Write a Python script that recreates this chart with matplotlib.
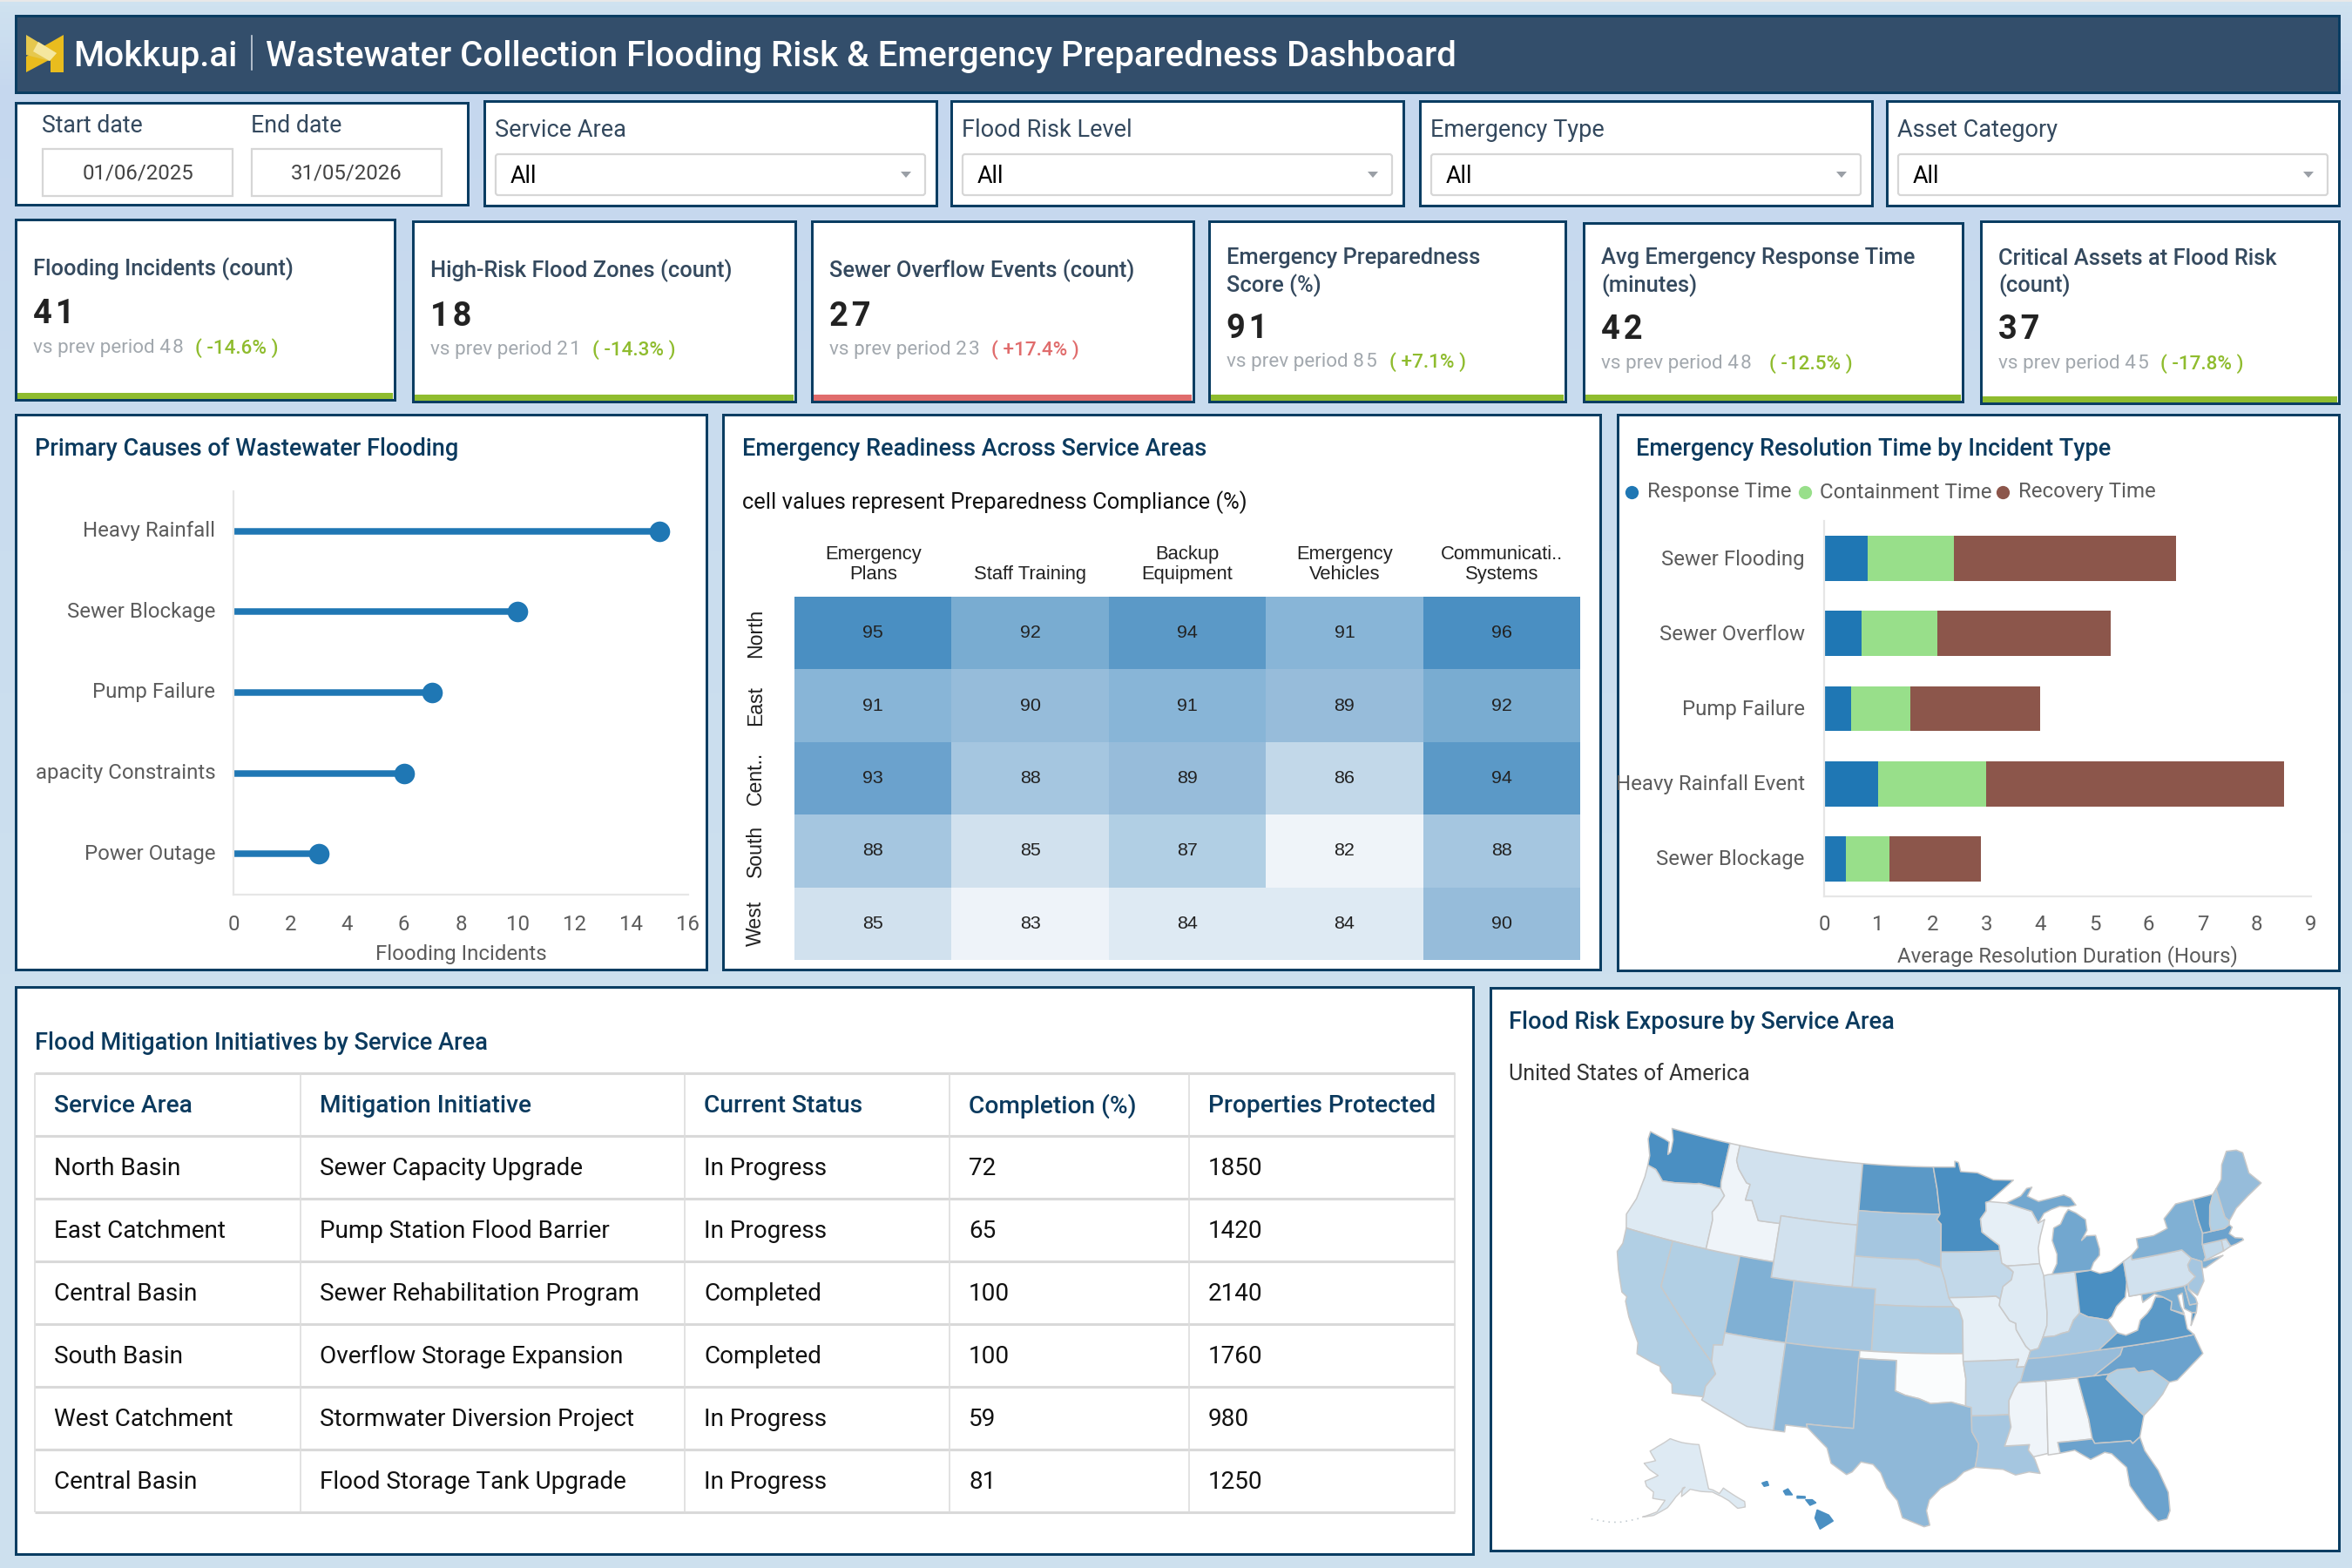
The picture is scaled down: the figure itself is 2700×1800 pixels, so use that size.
import numpy as np
import matplotlib
matplotlib.use("Agg")
import matplotlib.pyplot as plt
from matplotlib.collections import PolyCollection
from matplotlib.colors import LinearSegmentedColormap, Normalize
from matplotlib.patches import Polygon, Rectangle, FancyBboxPatch
from matplotlib.transforms import ScaledTranslation

W, H = 2700, 1800
plt.rcParams['font.family'] = ['Roboto', 'DejaVu Sans']

NAVY = '#0a3d62'
TITLE = '#0b3a5e'
GREY = '#5c5c5c'
GREEN = '#8fbc2e'
RED = '#e06c6c'

# ---- data
filter_names = ['Service Area', 'Flood Risk Level', 'Emergency Type', 'Asset Category']

kpi_titles = [['Flooding Incidents (count)'], ['High-Risk Flood Zones (count)'],
              ['Sewer Overflow Events (count)'], ['Emergency Preparedness', 'Score (%)'],
              ['Avg Emergency Response Time', '(minutes)'], ['Critical Assets at Flood Risk', '(count)']]
kpi_values = [41, 18, 27, 91, 42, 37]
kpi_prev = [48, 21, 23, 85, 48, 45]
kpi_delta = ['-14.6%', '-14.3%', '+17.4%', '+7.1%', '-12.5%', '-17.8%']
kpi_good = [True, True, False, True, True, True]

causes = ['Heavy Rainfall', 'Sewer Blockage', 'Pump Failure', 'apacity Constraints', 'Power Outage']
cause_counts = [15, 10, 7, 6, 3]

heat_cols = ['Emergency\nPlans', 'Staff Training', 'Backup\nEquipment', 'Emergency\nVehicles', 'Communicati..\nSystems']
heat_rows = ['North', 'East', 'Cent..', 'South', 'West']
heat_vals = [[95, 92, 94, 91, 96],
             [91, 90, 91, 89, 92],
             [93, 88, 89, 86, 94],
             [88, 85, 87, 82, 88],
             [85, 83, 84, 84, 90]]

incident_types = ['Sewer Flooding', 'Sewer Overflow', 'Pump Failure', 'Heavy Rainfall Event', 'Sewer Blockage']
response_time = [0.8, 0.7, 0.5, 1.0, 0.4]
containment_time = [1.6, 1.4, 1.1, 2.0, 0.8]
recovery_time = [4.1, 3.2, 2.4, 5.5, 1.7]
stack_names = ['Response Time', 'Containment Time', 'Recovery Time']
stack_colors = ['#1f77b4', '#98df8a', '#8c564b']

table_header = ['Service Area', 'Mitigation Initiative', 'Current Status', 'Completion (%)', 'Properties Protected']
table_rows = [['North Basin', 'Sewer Capacity Upgrade', 'In Progress', '72', '1850'],
              ['East Catchment', 'Pump Station Flood Barrier', 'In Progress', '65', '1420'],
              ['Central Basin', 'Sewer Rehabilitation Program', 'Completed', '100', '2140'],
              ['South Basin', 'Overflow Storage Expansion', 'Completed', '100', '1760'],
              ['West Catchment', 'Stormwater Diversion Project', 'In Progress', '59', '980'],
              ['Central Basin', 'Flood Storage Tank Upgrade', 'In Progress', '81', '1250']]

state_values = {'WA': 95.5, 'OR': 84, 'CA': 87, 'NV': 87, 'ID': 82.5, 'MT': 85, 'WY': 85, 'UT': 91.5, 'CO': 88,
                'AZ': 85, 'NM': 90.5, 'ND': 94, 'SD': 88, 'NE': 86, 'KS': 87, 'OK': 81.3, 'TX': 90.5, 'MN': 95.5,
                'IA': 86, 'MO': 83.5, 'AR': 86, 'LA': 88, 'WI': 83.5, 'IL': 84, 'IN': 84.5, 'OH': 96,
                'MI': 92.5, 'KY': 88, 'TN': 89, 'MS': 82.5, 'AL': 81.8, 'GA': 94, 'SC': 87, 'NC': 93,
                'VA': 94, 'WV': 81, 'MD': 92, 'DE': 91, 'PA': 85, 'NY': 91.5, 'NJ': 88, 'CT': 86, 'RI': 85,
                'MA': 93, 'VT': 94, 'NH': 87, 'ME': 90, 'AK': 84, 'HI': 96, 'FL': 93}

# state outlines, lon/lat, simplified by hand
state_shapes = {
    'WA': [[(-124.7,48.4),(-123.2,48.2),(-122.7,48.1),(-122.5,47.3),(-122.3,47.5),(-122.4,48.3),(-122.8,49.0),(-117.03,49.0),(-117.04,46.4),(-116.92,45.99),(-118.98,46.0),(-119.3,45.93),(-121.2,45.65),(-122.3,45.55),(-122.8,45.9),(-123.2,46.15),(-124.0,46.27),(-124.1,46.9),(-124.7,47.9)]],
    'OR': [[(-124.0,46.27),(-123.2,46.15),(-122.8,45.9),(-122.3,45.55),(-121.2,45.65),(-119.3,45.93),(-118.98,46.0),(-116.92,45.99),(-116.46,45.6),(-116.85,44.9),(-117.22,44.4),(-117.03,43.9),(-117.03,42.0),(-124.2,42.0),(-124.55,42.85),(-124.1,44.0),(-123.95,45.5)]],
    'CA': [[(-124.2,42.0),(-120.0,42.0),(-120.0,39.0),(-114.63,35.0),(-114.14,34.3),(-114.72,33.4),(-114.72,32.72),(-117.12,32.53),(-117.3,33.1),(-118.4,33.75),(-118.5,34.03),(-119.2,34.15),(-120.5,34.45),(-120.65,35.15),(-121.9,36.6),(-122.5,37.5),(-122.5,37.8),(-123.0,38.0),(-123.8,39.3),(-124.35,40.4),(-124.1,41.0)]],
    'NV': [[(-120,42),(-114.04,42),(-114.04,36.2),(-114.75,36.1),(-114.63,35.0),(-120,39)]],
    'ID': [[(-117.03,49),(-116.05,49),(-116.05,48.0),(-115.7,47.5),(-114.7,46.7),(-114.35,46.65),(-114.5,45.6),(-113.9,45.65),(-113.45,45.05),(-113.0,44.45),(-111.05,44.5),(-111.05,42.0),(-117.03,42.0),(-117.03,43.9),(-117.22,44.4),(-116.85,44.9),(-116.46,45.6),(-116.92,45.99),(-117.04,46.4)]],
    'MT': [[(-116.05,49),(-104.05,49),(-104.05,45.0),(-111.05,45.0),(-111.05,44.5),(-113.0,44.45),(-113.45,45.05),(-113.9,45.65),(-114.5,45.6),(-114.35,46.65),(-114.7,46.7),(-115.7,47.5),(-116.05,48.0)]],
    'WY': [[(-111.05,45),(-104.05,45),(-104.05,41),(-111.05,41)]],
    'UT': [[(-114.04,42),(-111.05,42),(-111.05,41),(-109.05,41),(-109.05,37),(-114.04,37)]],
    'CO': [[(-109.05,41),(-102.05,41),(-102.05,37),(-109.05,37)]],
    'AZ': [[(-114.63,35.0),(-114.75,36.1),(-114.04,36.2),(-114.04,37),(-109.05,37),(-109.05,31.33),(-111.07,31.33),(-114.81,32.5),(-114.72,32.72),(-114.72,33.4),(-114.14,34.3)]],
    'NM': [[(-109.05,37),(-103.0,37),(-103.04,32.0),(-106.62,32.0),(-106.53,31.78),(-108.2,31.78),(-108.2,31.33),(-109.05,31.33)]],
    'ND': [[(-104.05,49),(-97.23,49),(-96.85,47.6),(-96.56,45.94),(-104.05,45.94)]],
    'SD': [[(-104.05,45.94),(-96.56,45.94),(-96.85,45.6),(-96.45,45.3),(-96.45,42.5),(-97.9,42.8),(-98.5,43.0),(-104.05,43.0)]],
    'NE': [[(-104.05,43),(-98.5,43),(-97.9,42.8),(-96.45,42.5),(-96.1,41.7),(-95.9,41.0),(-95.3,40.0),(-102.05,40),(-102.05,41),(-104.05,41)]],
    'KS': [[(-102.05,40),(-95.3,40),(-94.9,39.8),(-94.61,39.1),(-94.62,37),(-102.05,37)]],
    'OK': [[(-103,37),(-94.62,37),(-94.62,36.5),(-94.43,35.4),(-94.48,33.64),(-95.6,33.9),(-97.2,33.8),(-98.1,34.1),(-99.2,34.3),(-100,34.56),(-100,36.5),(-103,36.5)]],
    'TX': [[(-103.04,36.5),(-100,36.5),(-100,34.56),(-99.2,34.3),(-98.1,34.1),(-97.2,33.8),(-95.6,33.9),(-94.48,33.64),(-94.04,33.55),(-94.04,32.0),(-93.55,31.2),(-93.7,30.3),(-93.85,29.7),(-94.7,29.4),(-95.3,28.9),(-96.4,28.35),(-97.2,27.6),(-97.4,26.9),(-97.15,25.96),(-97.55,25.85),(-99.1,26.4),(-99.5,27.5),(-100.3,28.3),(-100.8,29.25),(-101.4,29.77),(-102.3,29.88),(-102.9,29.2),(-103.3,29.0),(-104.5,29.65),(-104.9,30.6),(-106.53,31.78),(-106.62,32.0),(-103.04,32.0)]],
    'MN': [[(-97.23,49),(-95.15,49),(-95.15,49.38),(-94.8,49.3),(-94.6,48.7),(-93.0,48.6),(-91.5,48.1),(-89.6,48.0),(-92.0,46.7),(-92.3,46.65),(-92.3,46.1),(-92.85,45.6),(-92.75,44.75),(-91.25,43.85),(-91.22,43.5),(-96.45,43.5),(-96.45,45.3),(-96.85,45.6),(-96.56,45.94),(-96.85,47.6)]],
    'IA': [[(-96.45,43.5),(-91.22,43.5),(-91.1,42.7),(-90.15,42.1),(-90.35,41.6),(-91.1,41.2),(-91.4,40.4),(-91.75,40.6),(-95.77,40.58),(-95.9,41.0),(-96.1,41.7),(-96.45,42.5)]],
    'MO': [[(-95.77,40.58),(-91.75,40.6),(-91.4,40.4),(-91.5,40.0),(-90.7,39.0),(-90.2,38.8),(-90.2,38.4),(-89.5,37.3),(-89.15,37.0),(-89.4,36.5),(-89.7,36.0),(-90.37,36.0),(-90.15,36.5),(-94.62,36.5),(-94.62,37),(-94.61,39.1),(-94.9,39.8),(-95.3,40)]],
    'AR': [[(-94.62,36.5),(-90.15,36.5),(-90.37,36.0),(-89.7,36.0),(-90.1,35.1),(-90.6,34.7),(-91.1,33.9),(-91.15,33.0),(-94.04,33.0),(-94.04,33.55),(-94.48,33.64),(-94.43,35.4)]],
    'LA': [[(-94.04,33),(-91.15,33),(-91.05,32.2),(-91.6,31.0),(-89.73,31.0),(-89.85,30.65),(-89.5,30.2),(-89.4,30.0),(-89.1,29.1),(-89.9,29.25),(-90.9,29.1),(-91.8,29.5),(-92.3,29.55),(-93.85,29.7),(-93.7,30.3),(-93.55,31.2),(-94.04,32)]],
    'WI': [[(-92.0,46.7),(-90.4,46.55),(-88.1,45.9),(-87.6,45.1),(-87.0,45.3),(-87.5,44.3),(-87.8,43.5),(-87.8,42.5),(-90.65,42.5),(-91.1,42.7),(-91.22,43.5),(-91.25,43.85),(-92.75,44.75),(-92.85,45.6),(-92.3,46.1),(-92.3,46.65)]],
    'IL': [[(-90.65,42.5),(-87.8,42.5),(-87.53,41.7),(-87.53,39.35),(-87.65,38.5),(-88.05,37.8),(-88.5,37.1),(-89.15,37.0),(-89.5,37.3),(-90.2,38.4),(-90.2,38.8),(-90.7,39.0),(-91.5,40.0),(-91.4,40.4),(-91.1,41.2),(-90.35,41.6),(-90.15,42.1)]],
    'IN': [[(-87.53,41.7),(-87.2,41.75),(-86.8,41.76),(-84.8,41.76),(-84.82,39.1),(-85.4,38.7),(-85.9,38.0),(-86.5,37.93),(-87.1,37.8),(-88.05,37.8),(-87.65,38.5),(-87.53,39.35)]],
    'OH': [[(-84.8,41.7),(-83.45,41.73),(-82.7,41.45),(-81.7,41.5),(-80.52,41.98),(-80.52,40.64),(-80.85,39.7),(-81.7,39.2),(-82.2,38.6),(-82.6,38.42),(-83.3,38.6),(-84.2,38.8),(-84.82,39.1)]],
    'MI': [[(-86.8,41.76),(-84.8,41.76),(-83.45,41.73),(-83.1,42.2),(-82.5,42.6),(-82.42,43.0),(-82.6,43.9),(-83.4,43.95),(-83.9,43.7),(-83.3,44.3),(-83.3,45.0),(-84.1,45.5),(-84.75,45.78),(-85.1,45.5),(-85.6,44.9),(-86.25,44.7),(-86.5,43.9),(-86.2,43.0),(-86.3,42.4)],
           [(-90.4,46.55),(-89.0,46.95),(-88.4,47.4),(-87.9,47.45),(-88.4,46.9),(-87.4,46.5),(-86.0,46.65),(-85.0,46.75),(-84.4,46.5),(-84.0,46.0),(-84.7,45.95),(-85.5,46.05),(-86.3,45.9),(-87.0,45.7),(-87.6,45.1),(-88.1,45.9)]],
    'KY': [[(-89.4,36.5),(-89.15,37.0),(-88.5,37.1),(-88.05,37.8),(-87.1,37.8),(-86.5,37.93),(-85.9,38.0),(-85.4,38.7),(-84.82,39.1),(-84.2,38.8),(-83.3,38.6),(-82.6,38.42),(-81.97,37.54),(-83.67,36.6),(-88.07,36.5)]],
    'TN': [[(-89.4,36.5),(-88.07,36.5),(-83.67,36.6),(-81.68,36.59),(-82.0,36.1),(-84.3,35.0),(-90.3,35.0),(-90.1,35.1),(-89.7,36.0)]],
    'MS': [[(-90.3,35),(-88.2,35),(-88.1,34.9),(-88.4,30.35),(-89.5,30.2),(-89.85,30.65),(-89.73,31),(-91.6,31),(-91.05,32.2),(-91.15,33),(-91.1,33.9),(-90.6,34.7)]],
    'AL': [[(-88.2,35),(-85.6,35),(-85.1,32.3),(-85.0,31.0),(-87.6,31.0),(-87.5,30.3),(-88.4,30.25),(-88.4,30.35),(-88.1,34.9)]],
    'GA': [[(-85.6,35),(-83.1,35),(-83.35,34.7),(-81.4,32.6),(-80.9,32.05),(-81.45,30.72),(-82.05,30.37),(-82.2,30.57),(-84.86,30.7),(-85.0,31),(-85.1,32.3)]],
    'FL': [[(-87.6,31),(-85.0,31),(-84.86,30.7),(-82.2,30.57),(-82.05,30.37),(-81.45,30.72),(-81.25,29.8),(-80.5,28.4),(-80.05,26.9),(-80.15,25.7),(-80.45,25.2),(-81.1,25.15),(-81.8,26.1),(-82.7,27.7),(-82.75,28.9),(-83.7,29.9),(-84.2,30.05),(-85.3,29.7),(-86.4,30.4),(-87.5,30.3)]],
    'SC': [[(-83.35,34.7),(-83.1,35),(-82.4,35.2),(-81.05,35.15),(-80.8,34.82),(-79.67,34.8),(-78.55,33.87),(-79.2,33.2),(-80.0,32.6),(-80.9,32.05),(-81.4,32.6)]],
    'NC': [[(-84.3,35),(-82.0,36.1),(-81.68,36.59),(-75.87,36.55),(-75.5,35.25),(-76.5,34.7),(-77.9,33.9),(-78.55,33.87),(-79.67,34.8),(-80.8,34.82),(-81.05,35.15),(-82.4,35.2),(-83.1,35)]],
    'VA': [[(-83.67,36.6),(-81.97,37.54),(-81.3,37.3),(-80.3,37.5),(-79.95,38.1),(-79.3,38.45),(-78.87,38.77),(-78.35,39.4),(-77.75,39.3),(-77.1,38.9),(-77.3,38.4),(-76.3,37.9),(-76.3,37.0),(-75.87,36.55),(-81.68,36.59)],
           [(-75.95,37.15),(-75.3,37.9),(-75.65,37.95)]],
    'WV': [[(-82.6,38.42),(-82.2,38.6),(-81.7,39.2),(-80.85,39.7),(-80.52,40.64),(-80.52,39.72),(-79.48,39.72),(-79.48,39.2),(-78.4,39.6),(-77.75,39.3),(-78.35,39.4),(-78.87,38.77),(-79.3,38.45),(-79.95,38.1),(-80.3,37.5),(-81.3,37.3),(-81.97,37.54)]],
    'MD': [[(-79.48,39.72),(-75.79,39.72),(-75.7,38.46),(-75.05,38.45),(-75.3,37.9),(-75.65,37.95),(-76.2,38.3),(-76.1,39.3),(-76.5,39.2),(-76.45,38.5),(-76.3,38.0),(-77.3,38.4),(-77.1,38.9),(-77.75,39.3),(-78.4,39.6),(-79.48,39.2)]],
    'DE': [[(-75.79,39.72),(-75.42,39.8),(-75.55,39.45),(-75.1,38.8),(-75.05,38.45),(-75.7,38.46)]],
    'PA': [[(-80.52,41.98),(-79.76,42.27),(-79.76,42.0),(-75.35,42.0),(-74.7,41.35),(-75.13,40.98),(-75.1,40.6),(-74.72,40.15),(-75.42,39.8),(-75.79,39.72),(-80.52,39.72)]],
    'NY': [[(-79.76,42.27),(-79.05,42.7),(-79.05,43.27),(-77.5,43.27),(-76.2,43.55),(-76.3,44.2),(-75.0,44.97),(-73.35,45.0),(-73.35,43.6),(-73.25,42.75),(-73.5,42.05),(-73.5,41.2),(-73.7,41.0),(-72.0,41.05),(-73.7,40.55),(-74.0,40.6),(-73.9,41.0),(-74.7,41.35),(-75.35,42.0),(-79.76,42.0)]],
    'NJ': [[(-74.7,41.35),(-73.9,41.0),(-74.0,40.6),(-74.1,39.75),(-74.9,38.95),(-75.5,39.5),(-75.42,39.8),(-74.72,40.15),(-75.1,40.6),(-75.13,40.98)]],
    'CT': [[(-73.5,42.05),(-71.8,42.02),(-71.85,41.32),(-73.7,41.0),(-73.5,41.2)]],
    'RI': [[(-71.8,42.02),(-71.38,42.02),(-71.15,41.5),(-71.85,41.32)]],
    'MA': [[(-73.5,42.05),(-73.25,42.75),(-71.3,42.7),(-70.8,42.85),(-70.6,42.65),(-71.0,42.3),(-70.6,41.95),(-70.0,41.8),(-69.95,41.67),(-70.65,41.55),(-71.15,41.5),(-71.38,42.02)]],
    'VT': [[(-73.35,45),(-71.5,45.01),(-72.05,44.3),(-72.45,43.2),(-72.46,42.73),(-73.25,42.75),(-73.35,43.6)]],
    'NH': [[(-71.5,45.01),(-71.08,45.3),(-70.98,43.4),(-70.7,43.08),(-70.8,42.85),(-71.3,42.7),(-72.46,42.73),(-72.45,43.2),(-72.05,44.3)]],
    'ME': [[(-71.08,45.3),(-70.4,45.8),(-70.0,46.7),(-69.23,47.46),(-68.3,47.35),(-67.8,47.07),(-67.8,45.7),(-67.0,44.85),(-68.5,44.3),(-69.8,43.75),(-70.7,43.08),(-70.98,43.4)]],
}
alaska_shape = [(-141,69.65),(-141,60.3),(-139.5,59.9),(-137.5,58.9),(-135.5,59.8),(-133.5,58.4),(-130.0,55.9),(-130.5,54.8),(-133,55),(-135,57),(-137,58.2),(-139.9,59.5),(-144,60),(-148,60.7),(-151.5,59.3),(-151,61),(-150,61.2),(-153.5,59.3),(-156.5,57),(-161,55.2),(-164.5,54.6),(-160,56),(-157.5,58.5),(-162,58.7),(-162,60),(-165,61),(-166,62),(-161,63.5),(-165,64.5),(-168,65.6),(-163,66.5),(-166.5,68.3),(-163,69.5),(-156.6,71.35),(-150,70.5)]
aleutians = [(-165.5,54.1),(-168,53.4),(-171,52.6),(-174,52.1),(-177,51.8),(-180,51.5)]
hawaii_shapes = [[(-155.9,20.25),(-155.1,19.9),(-154.8,19.5),(-155.7,18.95),(-156.05,19.7)],
                 [(-156.7,20.95),(-156.25,20.95),(-156.0,20.75),(-156.4,20.58)],
                 [(-158.25,21.55),(-157.95,21.7),(-157.65,21.3),(-158.1,21.3)],
                 [(-159.75,22.1),(-159.4,22.22),(-159.3,21.95),(-159.6,21.88)],
                 [(-157.3,21.2),(-156.75,21.17),(-156.75,21.07),(-157.3,21.07)]]


def px(size):
    # font size given in image pixels, figure is 100 dpi
    return size * 0.72


def albers(ring, lon0=-96.0, lat0=37.5, p1=29.5, p2=45.5):
    ring = np.asarray(ring, float)
    nxt = np.roll(ring, -1, axis=0)
    pts = np.vstack([np.linspace(a, b, 8, endpoint=False) for a, b in zip(ring, nxt)])
    lon, lat = np.radians(pts[:, 0]), np.radians(pts[:, 1])
    p1, p2, lat0, lon0 = map(np.radians, (p1, p2, lat0, lon0))
    n = (np.sin(p1) + np.sin(p2)) / 2
    c = np.cos(p1) ** 2 + 2 * n * np.sin(p1)
    rho = np.sqrt(c - 2 * n * np.sin(lat)) / n
    rho0 = np.sqrt(c - 2 * n * np.sin(lat0)) / n
    th = n * (lon - lon0)
    return np.column_stack([6.371 * rho * np.sin(th), 6.371 * (rho0 - rho * np.cos(th))])


fig = plt.figure(figsize=(27, 18), dpi=100)
cv = fig.add_axes([0, 0, 1, 1], zorder=0)
cv.set_xlim(0, W)
cv.set_ylim(H, 0)
cv.axis('off')


def add_axes(x0, y0, x1, y1):
    a = fig.add_axes([x0 / W, 1 - y1 / H, (x1 - x0) / W, (y1 - y0) / H], zorder=2)
    a.patch.set_alpha(0)
    return a


def box(x0, y0, x1, y1, fc='white', ec=NAVY, lw=3):
    cv.add_patch(Rectangle((x0, y0), x1 - x0, y1 - y0, fc=fc, ec=ec, lw=lw * 0.72, zorder=1))


def txt(x, y, s, size, color='#222222', weight='normal', ha='left', **kw):
    return cv.text(x, y + 1.5, s, fontsize=px(size), color=color, fontweight=weight, ha=ha, va='center', zorder=5, **kw)


def lift_ylabels(ax, pixels):
    off = ScaledTranslation(0, pixels / 100, fig.dpi_scale_trans)
    for t in ax.get_yticklabels():
        t.set_transform(t.get_transform() + off)


# page background
bg = LinearSegmentedColormap.from_list('bg', [(0, '#cfe2f0'), (0.06, '#c5d7ee'), (0.26, '#c9dcee'), (0.62, '#cde0ee'), (1, '#cde0ee')])
cv.imshow(np.linspace(0, 1, 256)[:, None], aspect='auto', cmap=bg, extent=(0, W, H, 0), zorder=0)
cv.add_patch(Rectangle((0, 0), W, 2, fc='#e8e8e8', ec='none', zorder=1))
cv.set_xlim(0, W)
cv.set_ylim(H, 0)

# header
box(18, 18, 2685, 106, fc='#334e6b')
cv.add_patch(Polygon([(73, 40), (73, 83), (58, 83), (58, 68), (30, 83), (30, 65), (52, 52)], fc='#e9bc1e', ec='none', zorder=3))
cv.add_patch(Polygon([(30, 40), (65, 61), (57, 70), (30, 63)], fc='#e6c84e', ec='none', zorder=3))
cv.add_patch(Polygon([(44, 48), (65, 61), (57, 70), (38, 59)], fc='#f5e79f', ec='none', zorder=3))
txt(84, 63.5, 'Mokkup.ai', 40.2, color='white', weight=500)
cv.plot([289, 289], [41, 80], color='#c8d2dc', lw=1.2, zorder=4)
txt(305, 63.5, 'Wastewater Collection Flooding Risk & Emergency Preparedness Dashboard', 40.1, color='white', weight=500)

# date filter
box(18, 118, 537, 235)
for x, lab, val in [(48, 'Start date', '01/06/2025'), (288, 'End date', '31/05/2026')]:
    txt(x, 143.5, lab, 26.7, color='#34495e')
    cv.add_patch(Rectangle((x + 1, 171), 218, 54, fc='white', ec='#d6d6d6', lw=1.6, zorder=3))
    txt(x + 110, 197.5, val, 24, color='#444444', ha='center')

# drop down filters
filter_x = [(556, 1075), (1092, 1611), (1630, 2149), (2166, 2685)]
for (x0, x1), name in zip(filter_x, filter_names):
    box(x0, 116, x1, 236)
    txt(x0 + 12, 148, name, 27.1, color='#34495e')
    cv.add_patch(FancyBboxPatch((x0 + 13, 177), x1 - x0 - 26, 47, boxstyle='round,pad=0,rounding_size=3',
                                fc='white', ec='#d6d6d6', lw=1.6, zorder=3))
    txt(x0 + 30, 201.5, 'All', 27, color='black')
    cv.add_patch(Polygon([(x1 - 41, 197), (x1 - 29, 197), (x1 - 35, 204)], fc='#9a9fa6', ec='none', zorder=4))

# kpi cards
kpi_box = [(18, 252, 453, 459), (474, 254, 913, 461), (932, 254, 1370, 461),
           (1388, 254, 1797, 461), (1818, 256, 2253, 461), (2274, 254, 2685, 463)]
kpi_delta_x = [224, 680, 1138, 1595, 2031, 2480]
kpi_text_y = [(307, 359, 398), (309, 362, 400), (309, 362, 400), (295, 376, 414), (295, 377, 416), (295, 377, 416)]
for i, (x0, y0, x1, y1) in enumerate(kpi_box):
    box(x0, y0, x1, y1)
    col = GREEN if kpi_good[i] else RED
    cv.add_patch(Rectangle((x0 + 2, y1 - 8), x1 - x0 - 4, 7, fc=col, ec='none', zorder=3))
    tx = x0 + 20
    ty, vy, py = kpi_text_y[i]
    for j, line in enumerate(kpi_titles[i]):
        txt(tx, ty + j * 31, line, 25.5, color='#34495e', weight=500)
    txt(tx, vy, '\u200a'.join(str(kpi_values[i])), 38, color='#222222', weight='bold')
    prev = '\u200a'.join(str(kpi_prev[i]))
    txt(tx, py, 'vs prev period ' + prev, 22.5, color='#a2a8ae')
    txt(kpi_delta_x[i], py, '( %s )' % kpi_delta[i], 22.5, color=col, weight=500)

# panels
box(18, 476, 811, 1113)
box(830, 476, 1837, 1113)
box(1857, 476, 2685, 1114)
box(18, 1133, 1691, 1784)
box(1711, 1134, 2685, 1780)
txt(40, 514, 'Primary Causes of Wastewater Flooding', 27.1, color=TITLE, weight=500)
txt(852, 514, 'Emergency Readiness Across Service Areas', 27.1, color=TITLE, weight=500)
txt(852, 575, 'cell values represent Preparedness Compliance (%)', 25.5, color='#111111')
txt(1878, 514, 'Emergency Resolution Time by Incident Type', 27.1, color=TITLE, weight=500)
txt(40, 1196, 'Flood Mitigation Initiatives by Service Area', 27.2, color=TITLE, weight=500)
txt(1732, 1172, 'Flood Risk Exposure by Service Area', 27.2, color=TITLE, weight=500)
txt(1732, 1232, 'United States of America', 25, color='#333333')

# lollipop chart
ax1 = add_axes(268, 563.5, 790, 1026.5)
ypos = np.arange(len(causes))
ax1.hlines(ypos, 0, cause_counts, color='#1f77b4', lw=5.4)
ax1.plot(cause_counts, ypos, 'o', color='#1f77b4', ms=17, mew=0, clip_on=False)
ax1.set_xlim(0, 16)
ax1.set_ylim(len(causes) - 0.5, -0.5)
ax1.set_yticks(ypos, causes)
ax1.set_xticks(np.arange(0, 17, 2))
ax1.set_xlabel('Flooding Incidents', fontsize=px(24), color=GREY, labelpad=8)
ax1.tick_params(axis='y', length=0, pad=15, labelsize=px(24), labelcolor=GREY)
ax1.tick_params(axis='x', length=0, pad=17, labelsize=px(24), labelcolor=GREY)
for s in ['top', 'right']:
    ax1.spines[s].set_visible(False)
for s in ['left', 'bottom']:
    ax1.spines[s].set_color('#e6e6e6')
    ax1.spines[s].set_linewidth(1.6)
lift_ylabels(ax1, 2.5)

# heatmap
ax2 = add_axes(912, 685, 1814, 1102)
heat_stops = ['#ffffff', '#eff4f9', '#eef3f9', '#deeaf3', '#d1e1ee', '#c2d8e9', '#b1cfe4', '#a5c6e0',
              '#97bcda', '#96bcda', '#88b5d7', '#79acd1', '#6ba2cd', '#5b99c7', '#4a8fc2', '#4a8fc2']
heat_cmap = LinearSegmentedColormap.from_list('heat', heat_stops)
heat_norm = Normalize(81, 96)
ax2.pcolormesh(np.array(heat_vals), cmap=heat_cmap, norm=heat_norm)
ax2.set_ylim(len(heat_rows), 0)
ax2.xaxis.tick_top()
ax2.set_xticks(np.arange(len(heat_cols)) + 0.5, heat_cols, fontfamily='Liberation Sans', fontsize=px(22), color='#222222', linespacing=1.12)
ax2.set_yticks(np.arange(len(heat_rows)) + 0.5, heat_rows, fontfamily='Liberation Sans', fontsize=px(23), color='#222222', rotation=90, va='center')
ax2.tick_params(length=0, pad=11)
ax2.tick_params(axis='y', pad=24)
for s in ax2.spines.values():
    s.set_visible(False)
for r, row in enumerate(heat_vals):
    for c, v in enumerate(row):
        ax2.text(c + 0.5, r + 0.5, str(v), ha='center', va='center', fontfamily='Liberation Sans', fontsize=px(21.5), color='#222222')

# stacked bars
ax3 = add_axes(2094, 598, 2653, 1029)
ypos = np.arange(len(incident_types))
left = np.zeros(len(incident_types))
for vals, col in zip([response_time, containment_time, recovery_time], stack_colors):
    ax3.barh(ypos, vals, left=left, height=0.6, color=col)
    left += np.array(vals)
ax3.set_xlim(0, 9)
ax3.set_ylim(len(incident_types) - 0.5, -0.5)
ax3.set_yticks(ypos, incident_types)
ax3.set_xticks(np.arange(10))
ax3.set_xlabel('Average Resolution Duration (Hours)', fontsize=px(24), color=GREY, labelpad=9)
ax3.tick_params(axis='y', length=0, pad=16, labelsize=px(24), labelcolor=GREY)
ax3.tick_params(axis='x', length=0, pad=15, labelsize=px(24), labelcolor=GREY)
for s in ['top', 'right']:
    ax3.spines[s].set_visible(False)
for s in ['left', 'bottom']:
    ax3.spines[s].set_color('#e6e6e6')
    ax3.spines[s].set_linewidth(1.6)
lift_ylabels(ax3, 1.5)
for mx, tx, name, col in zip([1873, 2072, 2299], [1891, 2089, 2317], stack_names, stack_colors):
    cv.plot(mx, 565, 'o', color=col, ms=11, mew=0, zorder=5)
    txt(tx, 563.5, name, 24, color=GREY)

# table
col_lines = [40, 345, 786, 1090, 1365, 1670]
row_lines = [1232, 1304, 1376, 1448, 1520, 1592, 1664, 1736]
for y in row_lines:
    cv.plot([col_lines[0], col_lines[-1]], [y, y], color='#d9d9d9', lw=2.2, zorder=3, solid_capstyle='butt')
for x in col_lines:
    cv.plot([x, x], [row_lines[0], row_lines[-1]], color='#dddddd', lw=1.2, zorder=3, solid_capstyle='butt')
for x, s in zip(col_lines, table_header):
    txt(x + 22, (row_lines[0] + row_lines[1]) / 2, s, 28.1, color=TITLE, weight=500)
for r, row in enumerate(table_rows):
    for x, s in zip(col_lines, row):
        txt(x + 22, (row_lines[r + 1] + row_lines[r + 2]) / 2, s, 27.9, color='#111111')

# map
ax4 = add_axes(1720, 1260, 2680, 1775)
ax4.set_xlim((1720 - 2234) / 161, (2680 - 2234) / 161)
ax4.set_ylim((1545 - 1775) / 160, (1545 - 1260) / 160)
ax4.axis('off')
polys, poly_vals = [], []
for st, rings in state_shapes.items():
    for ring in rings:
        polys.append(albers(ring))
        poly_vals.append(state_values[st])
pc = PolyCollection(polys, array=np.array(poly_vals), cmap=heat_cmap, norm=heat_norm, edgecolors='#c9c9c9', linewidths=1.1)
ax4.add_collection(pc)

# alaska inset
ax5 = add_axes(1885, 1651, 2003, 1741)
ak = albers(alaska_shape, lon0=-154, lat0=63, p1=55, p2=65)
ax5.add_collection(PolyCollection([ak], array=np.array([state_values['AK']]), cmap=heat_cmap, norm=heat_norm, edgecolors='#cccccc', linewidths=1.0))
ax5.set_xlim(ak[:, 0].min(), ak[:, 0].max())
ax5.set_ylim(ak[:, 1].min(), ak[:, 1].max())
al = albers(aleutians, lon0=-154, lat0=63, p1=55, p2=65)[:40]
ax5.plot(al[:, 0], al[:, 1], ls=(0, (1, 3)), color='#c4ccd2', lw=1.2, clip_on=False)
ax5.axis('off')

# hawaii inset
ax6 = add_axes(2022, 1700, 2105, 1756)
ax6.add_collection(PolyCollection(hawaii_shapes, array=np.full(len(hawaii_shapes), state_values['HI']), cmap=heat_cmap, norm=heat_norm, edgecolors='face', linewidths=1.2))
ax6.set_xlim(-159.8, -154.75)
ax6.set_ylim(18.9, 22.25)
ax6.axis('off')

fig.savefig('out.png', dpi=100)
